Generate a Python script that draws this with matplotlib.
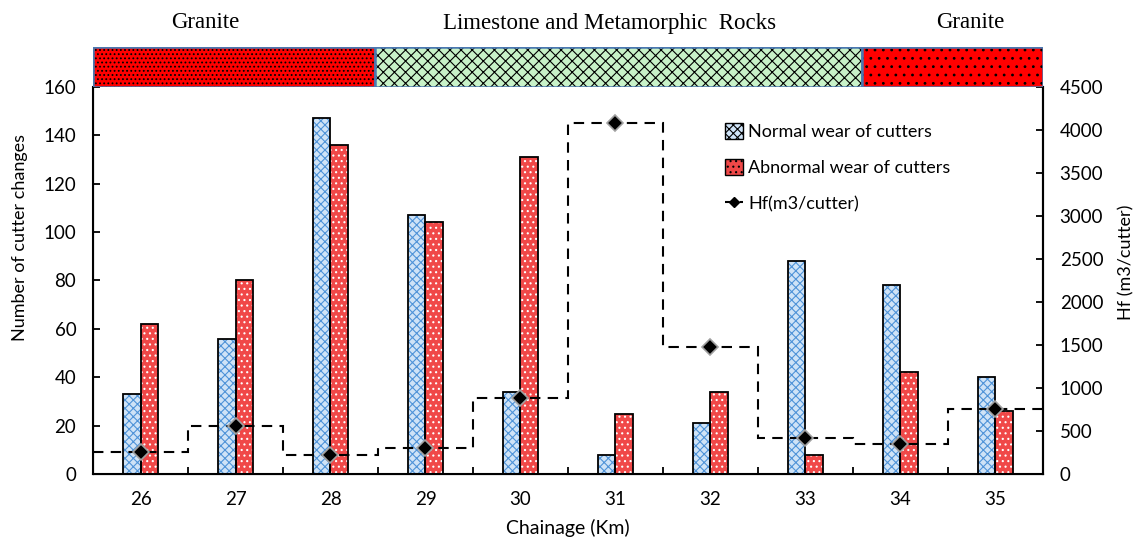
import numpy as np
import matplotlib.pyplot as plt
from matplotlib.patches import Rectangle
from matplotlib.lines import Line2D

plt.rcParams['hatch.linewidth'] = 0.8
plt.rcParams['font.family'] = ['Lato', 'DejaVu Sans']

# data
chainage = ["26", "27", "28", "29", "30", "31", "32", "33", "34", "35"]
normal_wear = [33, 56, 147, 107, 34, 8, 21, 88, 78, 40]
abnormal_wear = [62, 80, 136, 104, 131, 25, 34, 8, 42, 26]
hf = [255, 555, 215, 300, 885, 4080, 1475, 415, 345, 750]

# rock zones along the tunnel (in category units)
zone_names = ["Granite", "Limestone and Metamorphic  Rocks", "Granite"]
zone_edges = [-0.5, 2.47, 7.6, 9.5]

x = np.arange(len(chainage))
w = 0.18

fig = plt.figure(figsize=(11.37, 5.38), dpi=100)
ax = fig.add_axes([0.0818, 0.119, 0.8355, 0.7193])

ax.bar(x - w / 2, normal_wear, w, color="#cfe3f7", edgecolor="#4f93d8", hatch="xxxx", linewidth=0, zorder=2)
ax.bar(x - w / 2, normal_wear, w, color="none", edgecolor="black", linewidth=1.3, zorder=3)
ax.bar(x + w / 2, abnormal_wear, w, color="#f04848", edgecolor="white", hatch="...", linewidth=0, zorder=2)
ax.bar(x + w / 2, abnormal_wear, w, color="none", edgecolor="black", linewidth=1.3, zorder=3)

ax.set_xlim(-0.5, 9.5)
ax.set_ylim(0, 160)
ax.set_yticks(range(0, 161, 20))
ax.set_xticks(x)
ax.set_xticklabels(chainage)
ax.set_xticks(np.arange(0.5, 9.5, 1), minor=True)
ax.tick_params(axis="x", which="major", length=0, labelsize=13.5, pad=12)
ax.tick_params(axis="x", which="minor", direction="in", length=5, width=1.3)
ax.tick_params(axis="y", direction="in", length=5, width=1.3, labelsize=13.5, pad=12)
ax.set_ylabel("Number of cutter changes", fontsize=13)
ax.yaxis.set_label_coords(-0.068, 0.612)
ax.set_xlabel("Chainage (Km)", fontsize=14, va="center")
ax.xaxis.set_label_coords(0.5, -0.14)
for s in ["left", "right", "bottom"]:
    ax.spines[s].set_linewidth(1.5)
ax.spines["top"].set_visible(False)

ax2 = ax.twinx()
ax2.set_ylim(0, 4500)
ax2.set_yticks(range(0, 4501, 500))
ax2.tick_params(axis="y", direction="in", length=5, width=1.3, labelsize=13.5, pad=12)
ax2.set_ylabel("Hf (m3/cutter)", fontsize=13)
ax2.yaxis.set_label_coords(1.079, 0.548)
ax2.spines["top"].set_visible(False)
ax2.spines["right"].set_linewidth(1.5)
edges = np.arange(-0.5, len(chainage), 1.0)
ax2.stairs(hf, edges, baseline=None, color="black", linestyle=(0, (5, 3.5)), linewidth=1.5, zorder=4)
ax2.plot(x, hf, linestyle="none", marker="D", markersize=8, color="black",
         markeredgecolor="#a0a0a0", markeredgewidth=1.2, zorder=5)

handles = [
    Rectangle((0, 0), 1, 1, facecolor="#cfe3f7", edgecolor="black", hatch="xxxx", linewidth=1),
    Rectangle((0, 0), 1, 1, facecolor="#f04848", edgecolor="black", hatch="...", linewidth=1),
    Line2D([], [], color="black", linestyle=(0, (4, 3)), marker="D", markersize=5, markevery=[1], linewidth=1.5),
]
ax2.legend(handles, ["Normal wear of cutters", "Abnormal wear of cutters", "Hf(m3/cutter)"],
           loc="upper left", bbox_to_anchor=(0.648, 0.95), frameon=False, fontsize=13,
           handlelength=1.0, handleheight=1.0, labelspacing=1.05, handletextpad=0.3)

# rock band above the plot
band = fig.add_axes([0.0818, 0.8383, 0.8355, 0.0743])
band.set_xlim(-0.5, 9.5)
band.set_ylim(0, 1)
band.axis("off")
styles = [("#ff0000", "....", "black"), ("#c8f2c8", "xxx", "black"), ("#ff0000", "..", "black")]
for i, (fc, h, hc) in enumerate(styles):
    x0, x1 = zone_edges[i], zone_edges[i + 1]
    band.add_patch(Rectangle((x0, 0), x1 - x0, 1, facecolor=fc, edgecolor=hc, hatch=h, linewidth=0))
    band.add_patch(Rectangle((x0, 0), x1 - x0, 1, facecolor="none", edgecolor="#4a78b0", linewidth=1.8))

label_x = [205 / 1137, 610 / 1137, 970 / 1137]
for name, lx in zip(zone_names, label_x):
    fig.text(lx, 1 - 23 / 538, name, ha="center", va="center", fontsize=16.5, family="Liberation Serif")

fig.savefig("out.png", dpi=100)
